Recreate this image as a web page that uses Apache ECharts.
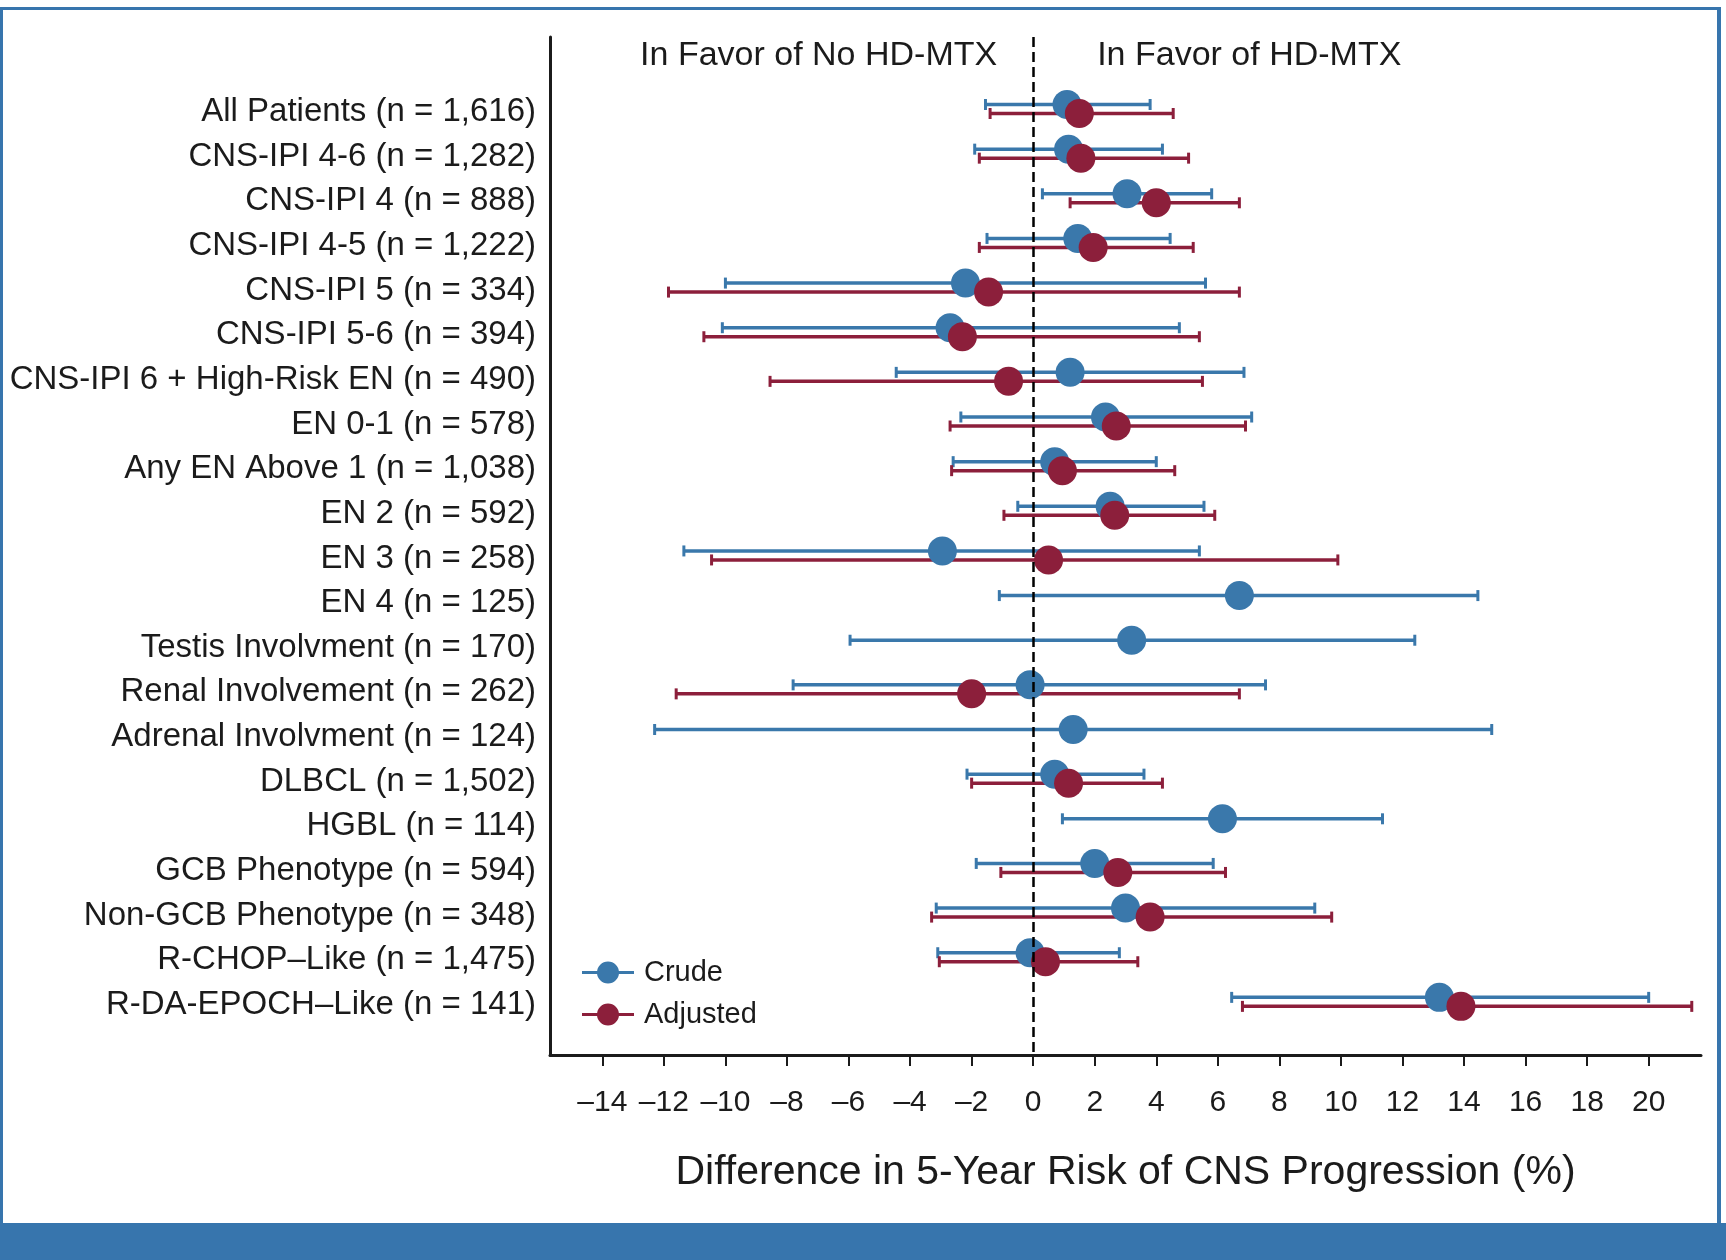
<!DOCTYPE html>
<html>
<head>
<meta charset="utf-8">
<title>Difference in 5-Year Risk of CNS Progression</title>
<script src="https://cdn.jsdelivr.net/npm/echarts@6/dist/echarts.min.js"></script>
<style>
  html, body { margin: 0; padding: 0; background: #ffffff; }
  #chart { width: 1726px; height: 1260px; }
</style>
</head>
<body>
<div id="chart"></div>
<script>
// Subgroups, top to bottom
const categories = [
  'All Patients (n = 1,616)',
  'CNS-IPI 4-6 (n = 1,282)',
  'CNS-IPI 4 (n = 888)',
  'CNS-IPI 4-5 (n = 1,222)',
  'CNS-IPI 5 (n = 334)',
  'CNS-IPI 5-6 (n = 394)',
  'CNS-IPI 6 + High-Risk EN (n = 490)',
  'EN 0-1 (n = 578)',
  'Any EN Above 1 (n = 1,038)',
  'EN 2 (n = 592)',
  'EN 3 (n = 258)',
  'EN 4 (n = 125)',
  'Testis Involvment (n = 170)',
  'Renal Involvement (n = 262)',
  'Adrenal Involvment (n = 124)',
  'DLBCL (n = 1,502)',
  'HGBL (n = 114)',
  'GCB Phenotype (n = 594)',
  'Non-GCB Phenotype (n = 348)',
  'R-CHOP\u2013Like (n = 1,475)',
  'R-DA-EPOCH\u2013Like (n = 141)'
];

// Crude risk difference (%) with 95% CI
const crudeEst  = [1.1, 1.15, 3.05, 1.45, -2.2, -2.7, 1.2, 2.35, 0.7, 2.5, -2.95, 6.7, 3.2, -0.1, 1.3, 0.7, 6.15, 2.0, 3.0, -0.1, 13.2];
const crudeLow  = [-1.55, -1.9, 0.3, -1.5, -10.0, -10.1, -4.45, -2.35, -2.6, -0.5, -11.35, -1.1, -5.95, -7.8, -12.3, -2.15, 0.95, -1.85, -3.15, -3.1, 6.45];
const crudeHigh = [3.8, 4.2, 5.8, 4.45, 5.6, 4.75, 6.85, 7.1, 4.0, 5.55, 5.4, 14.45, 12.4, 7.55, 14.9, 3.6, 11.35, 5.85, 9.15, 2.8, 20.0];

// Adjusted risk difference (%) with 95% CI (null = not estimated)
const adjEst  = [1.5, 1.55, 4.0, 1.95, -1.45, -2.3, -0.8, 2.7, 0.95, 2.65, 0.5, null, null, -2.0, null, 1.15, null, 2.75, 3.8, 0.4, 13.9];
const adjLow  = [-1.4, -1.75, 1.2, -1.75, -11.85, -10.7, -8.55, -2.7, -2.65, -0.95, -10.45, null, null, -11.6, null, -2.0, null, -1.05, -3.3, -3.05, 6.8];
const adjHigh = [4.55, 5.05, 6.7, 5.2, 6.7, 5.4, 5.5, 6.9, 4.6, 5.9, 9.9, null, null, 6.7, null, 4.2, null, 6.25, 9.7, 3.4, 21.4];

// X axis tick values
const xTicks = [-14, -12, -10, -8, -6, -4, -2, 0, 2, 4, 6, 8, 10, 12, 14, 16, 18, 20];

const BLUE = '#3a78ab';
const RED = '#8c1f3b';
const FRAME = '#3775ad';
const INK = '#1b1b1b';
const SANS = '"Liberation Sans", Arial, sans-serif';

const rowIdx = categories.map((_, i) => i);

function intervals(low, high) {
  const out = [];
  low.forEach((lo, i) => { if (lo != null && high[i] != null) out.push([lo, high[i], i]); });
  return out;
}
function points(est) {
  const out = [];
  est.forEach((v, i) => { if (v != null) out.push([v, i]); });
  return out;
}

// Horizontal CI line with end caps, shifted a few pixels off the row centre
function errorBar(color, shift) {
  return function (params, api) {
    const a = api.coord([api.value(0), api.value(2)]);
    const b = api.coord([api.value(1), api.value(2)]);
    const y = a[1] + shift;
    const cap = 5.5;
    return {
      type: 'group',
      children: [
        { type: 'line', shape: { x1: a[0], y1: y, x2: b[0], y2: y }, style: { stroke: color, lineWidth: 3.5 } },
        { type: 'line', shape: { x1: a[0], y1: y - cap, x2: a[0], y2: y + cap }, style: { stroke: color, lineWidth: 3 } },
        { type: 'line', shape: { x1: b[0], y1: y - cap, x2: b[0], y2: y + cap }, style: { stroke: color, lineWidth: 3 } }
      ]
    };
  };
}

const legendIcon = 'path://M0,9.5H52V12.5H0ZM37,11A11,11 0 1,1 15,11A11,11 0 1,1 37,11Z';

const chart = echarts.init(document.getElementById('chart'), null, { renderer: 'canvas' });

chart.setOption({
  backgroundColor: '#ffffff',
  animation: false,
  grid: { left: 550, right: 25, top: 37, bottom: 205 },
  xAxis: {
    type: 'value',
    min: -15.7,
    max: 21.7,
    splitLine: { show: false },
    axisLine: { show: true, onZero: false, lineStyle: { color: INK, width: 3 } },
    axisTick: { show: true, customValues: xTicks, length: 11, lineStyle: { color: INK, width: 2 } },
    axisLabel: {
      customValues: xTicks,
      formatter: v => String(v).replace('-', '\u2013'),
      fontFamily: SANS, fontSize: 30, color: INK, margin: 33
    },
    name: 'Difference in 5-Year Risk of CNS Progression (%)',
    nameLocation: 'middle',
    nameGap: 97,
    nameTextStyle: { fontFamily: SANS, fontSize: 41, color: INK }
  },
  yAxis: {
    type: 'value',
    inverse: true,
    min: -1.613,
    max: 21.19,
    splitLine: { show: false },
    axisLine: { show: true, onZero: false, lineStyle: { color: INK, width: 3 } },
    axisTick: { show: false },
    axisLabel: {
      customValues: rowIdx,
      formatter: v => '{c|' + (categories[Math.round(v)] || '') + '}',
      margin: 14,
      rich: {
        c: { fontFamily: SANS, fontSize: 33, color: INK, padding: [6, 0, 0, 0] }
      }
    }
  },
  legend: {
    orient: 'vertical',
    left: 577,
    top: 953,
    itemWidth: 52,
    itemHeight: 22,
    itemGap: 13,
    selectedMode: false,
    data: [{ name: 'Crude', icon: legendIcon }, { name: 'Adjusted', icon: legendIcon }],
    textStyle: { fontFamily: SANS, fontSize: 29, color: INK, padding: [0, 0, 0, 5] }
  },
  series: [
    {
      name: 'Crude', type: 'custom', z: 2,
      itemStyle: { color: BLUE },
      data: intervals(crudeLow, crudeHigh),
      encode: { x: [0, 1], y: 2 },
      renderItem: errorBar(BLUE, -4.5),
      markLine: {
        silent: true, symbol: ['none', 'none'], label: { show: false },
        lineStyle: { color: '#000000', width: 2.5, type: [10, 5] },
        data: [{ xAxis: 0 }]
      }
    },
    {
      name: 'Adjusted', type: 'custom', z: 2,
      itemStyle: { color: RED },
      data: intervals(adjLow, adjHigh),
      encode: { x: [0, 1], y: 2 },
      renderItem: errorBar(RED, 4.5)
    },
    {
      name: 'Crude', type: 'scatter', z: 3,
      symbol: 'circle', symbolSize: 29, symbolOffset: [0, -4.5],
      itemStyle: { color: BLUE, opacity: 1 },
      data: points(crudeEst)
    },
    {
      name: 'Adjusted', type: 'scatter', z: 4,
      symbol: 'circle', symbolSize: 29, symbolOffset: [0, 4.5],
      itemStyle: { color: RED, opacity: 1 },
      data: points(adjEst)
    }
  ]
});

// Panel frame and the two direction headings above the plot
const x0 = chart.convertToPixel({ xAxisIndex: 0 }, 0);
const headY = chart.convertToPixel({ yAxisIndex: 0 }, -1.2);
chart.setOption({
  graphic: [
    { type: 'rect', shape: { x: 0, y: 7, width: 1721, height: 3 }, style: { fill: FRAME }, silent: true },
    { type: 'rect', shape: { x: 0, y: 7, width: 3, height: 1220 }, style: { fill: FRAME }, silent: true },
    { type: 'rect', shape: { x: 1717, y: 7, width: 4, height: 1220 }, style: { fill: FRAME }, silent: true },
    { type: 'rect', shape: { x: 0, y: 1223, width: 1726, height: 37 }, style: { fill: FRAME }, silent: true },
    {
      type: 'text', x: x0 - 36, y: headY, silent: true,
      style: { text: 'In Favor of No HD-MTX', fontFamily: SANS, fontSize: 34, fill: INK, align: 'right', verticalAlign: 'middle' }
    },
    {
      type: 'text', x: x0 + 64, y: headY, silent: true,
      style: { text: 'In Favor of HD-MTX', fontFamily: SANS, fontSize: 34, fill: INK, align: 'left', verticalAlign: 'middle' }
    }
  ]
});
</script>
</body>
</html>
